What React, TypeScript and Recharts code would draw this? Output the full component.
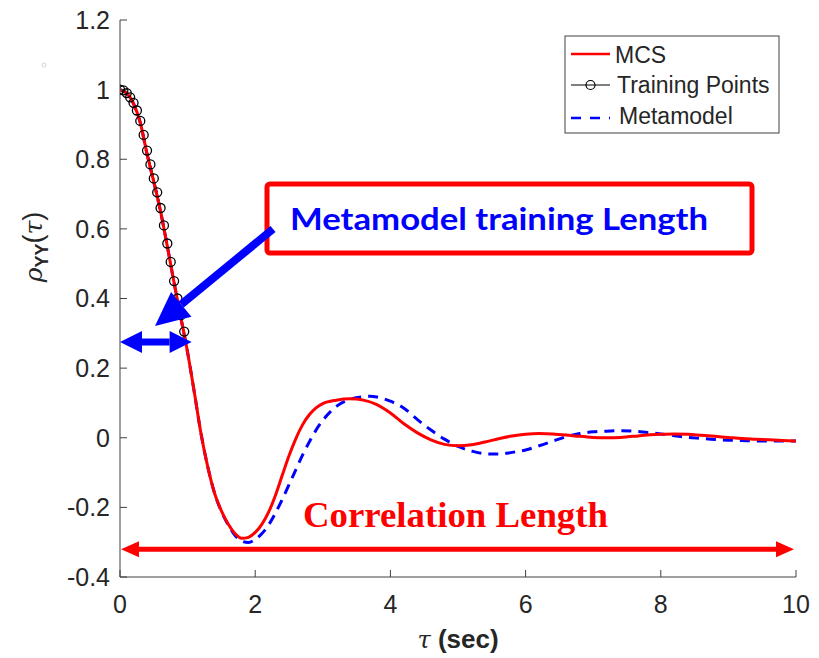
import React from 'react';
import { LineChart, Line, XAxis, YAxis } from 'recharts';

// Lag values (sec) and autocorrelation of the Monte Carlo simulation
const tauMcs = [
  0, 0.1, 0.2, 0.3, 0.4, 0.5, 0.6, 0.7, 0.8, 0.9, 1.0, 1.1, 1.2, 1.3, 1.4, 1.5,
  1.6, 1.7, 1.8, 1.9, 2.0, 2.1, 2.2, 2.3, 2.4, 2.5, 2.6, 2.7, 2.8, 2.9, 3.0,
  3.2, 3.4, 3.5, 3.6, 3.8, 4.0, 4.2, 4.4, 4.6, 4.8, 5.0, 5.2, 5.4, 5.6, 5.8,
  6.0, 6.2, 6.4, 6.6, 6.8, 7.0, 7.2, 7.4, 7.6, 7.8, 8.0, 8.2, 8.4, 8.6, 8.8,
  9.0, 9.2, 9.4, 9.6, 9.8, 10,
];
const rhoMcs = [
  1.0, 0.99, 0.96, 0.905, 0.815, 0.735, 0.65, 0.55, 0.445, 0.345, 0.245, 0.13,
  0.01, -0.085, -0.16, -0.21, -0.248, -0.275, -0.289, -0.286, -0.272, -0.248,
  -0.213, -0.165, -0.108, -0.052, -0.003, 0.037, 0.066, 0.086, 0.098,
  0.108, 0.112, 0.111, 0.108, 0.095, 0.071, 0.04, 0.014, -0.006, -0.019,
  -0.023, -0.02, -0.012, -0.003, 0.005, 0.01, 0.012, 0.011, 0.008, 0.004,
  0.001, 0.0, 0.001, 0.004, 0.008, 0.01, 0.011, 0.01, 0.007, 0.004, 0.001,
  -0.002, -0.004, -0.006, -0.008, -0.009,
];

// Training points used to fit the metamodel
const tauTrain = [
  0, 0.05, 0.1, 0.15, 0.2, 0.25, 0.3, 0.35, 0.4, 0.45, 0.5, 0.55, 0.6, 0.65,
  0.7, 0.75, 0.8, 0.85, 0.9, 0.95,
];
const rhoTrain = [
  1.0, 0.998, 0.99, 0.978, 0.962, 0.94, 0.91, 0.87, 0.825, 0.785, 0.745,
  0.705, 0.66, 0.61, 0.558, 0.505, 0.45, 0.4, 0.352, 0.305,
];

// Metamodel prediction
const tauMeta = [
  0, 0.1, 0.2, 0.3, 0.4, 0.5, 0.6, 0.7, 0.8, 0.9, 1.0, 1.1, 1.2, 1.3, 1.4, 1.5,
  1.6, 1.7, 1.8, 1.9, 2.0, 2.1, 2.2, 2.3, 2.4, 2.5, 2.6, 2.7, 2.8, 2.9, 3.0,
  3.2, 3.4, 3.6, 3.7, 3.8, 4.0, 4.2, 4.4, 4.6, 4.8, 5.0, 5.2, 5.4, 5.6, 5.8,
  6.0, 6.2, 6.4, 6.6, 6.8, 7.0, 7.2, 7.4, 7.6, 7.8, 8.0, 8.2, 8.4, 8.6, 8.8,
  9.0, 9.2, 9.4, 9.6, 9.8, 10,
];
const rhoMeta = [
  1.0, 0.99, 0.96, 0.905, 0.815, 0.735, 0.65, 0.55, 0.445, 0.345, 0.245, 0.13,
  0.01, -0.085, -0.16, -0.212, -0.25, -0.28, -0.297, -0.301, -0.292, -0.275,
  -0.25, -0.216, -0.177, -0.135, -0.092, -0.05, -0.012, 0.022, 0.05,
  0.09, 0.11, 0.118, 0.119, 0.117, 0.105, 0.085, 0.052, 0.022, -0.004,
  -0.025, -0.038, -0.046, -0.047, -0.042, -0.035, -0.023, -0.01, 0.003,
  0.012, 0.017, 0.019, 0.02, 0.019, 0.015, 0.011, 0.006, 0.001, -0.002,
  -0.005, -0.007, -0.008, -0.009, -0.009, -0.009, -0.009,
];

const xTicks = [0, 2, 4, 6, 8, 10];
const yTicks = [-0.4, -0.2, 0, 0.2, 0.4, 0.6, 0.8, 1, 1.2];
const xDomain: [number, number] = [0, 10];
const yDomain: [number, number] = [-0.4, 1.2];

// Annotation anchors in data units
const trainingLength = 1.0;
const trainingLevel = 0.275;
const correlationLevel = -0.32;

const mcsData = tauMcs.map((t, i) => ({ tau: t, rho: rhoMcs[i] }));
const trainData = tauTrain.map((t, i) => ({ tau: t, rho: rhoTrain[i] }));
const metaData = tauMeta.map((t, i) => ({ tau: t, rho: rhoMeta[i] }));

const W = 819;
const H = 658;
const PLOT = { left: 120, top: 20, right: 796, bottom: 577 };
const AXIS = '#404040';
const TEXT = '#262626';
const FONT = '"Liberation Sans", Arial, Helvetica, sans-serif';

const px = (x: number) =>
  PLOT.left + ((x - xDomain[0]) / (xDomain[1] - xDomain[0])) * (PLOT.right - PLOT.left);
const py = (y: number) =>
  PLOT.top + ((yDomain[1] - y) / (yDomain[1] - yDomain[0])) * (PLOT.bottom - PLOT.top);

function arrowHead(tipX: number, tipY: number, fromX: number, fromY: number, len: number, half: number) {
  const dx = tipX - fromX;
  const dy = tipY - fromY;
  const d = Math.hypot(dx, dy);
  const ux = dx / d;
  const uy = dy / d;
  const bx = tipX - ux * len;
  const by = tipY - uy * len;
  const pxp = -uy;
  const pyp = ux;
  return {
    points: `${tipX},${tipY} ${bx + pxp * half},${by + pyp * half} ${bx - pxp * half},${by - pyp * half}`,
    bx,
    by,
  };
}

function DoubleArrow({ x1, x2, y, color, width, len, half }: { x1: number; x2: number; y: number; color: string; width: number; len: number; half: number }) {
  const a = arrowHead(x1, y, x2, y, len, half);
  const b = arrowHead(x2, y, x1, y, len, half);
  return (
    <g>
      <line x1={a.bx} y1={y} x2={b.bx} y2={y} stroke={color} strokeWidth={width} />
      <polygon points={a.points} fill={color} />
      <polygon points={b.points} fill={color} />
    </g>
  );
}

function Overlay() {
  const tail = { x: 273, y: 229 };
  const tip = { x: 155, y: 326 };
  const head = arrowHead(tip.x, tip.y, tail.x, tail.y, 34, 16);
  const lx = 565;
  const ly = 36;
  return (
    <svg width={W} height={H} style={{ position: 'absolute', left: 0, top: 0, pointerEvents: 'none' }}>
      {/* legend */}
      <rect x={lx} y={ly} width={214} height={97} fill="#fff" stroke={AXIS} strokeWidth={1} />
      <line x1={571} y1={54} x2={610} y2={54} stroke="#ff0000" strokeWidth={2.5} />
      <text x={615} y={63} fontFamily={FONT} fontSize={23} fill={TEXT}>MCS</text>
      <line x1={571} y1={85} x2={610} y2={85} stroke="#000" strokeWidth={1} />
      <circle cx={590.5} cy={85} r={4.5} fill="none" stroke="#000" strokeWidth={1.2} />
      <text x={617} y={93} fontFamily={FONT} fontSize={23} fill={TEXT}>Training Points</text>
      <line x1={571} y1={118} x2={610} y2={118} stroke="#0000ff" strokeWidth={2.5} strokeDasharray="10 9" />
      <text x={619} y={124} fontFamily={FONT} fontSize={23} fill={TEXT}>Metamodel</text>

      {/* axis titles */}
      <text x={458} y={648} textAnchor="middle" fontFamily={FONT} fontSize={26} fill={TEXT}>
        <tspan fontStyle="italic" fontFamily='"DejaVu Serif", serif' fontSize={24}>τ</tspan>
        <tspan fontWeight="bold"> (sec)</tspan>
      </text>
      <text transform="rotate(-90 42 247)" x={42} y={247} textAnchor="middle" fontFamily={FONT} fontSize={27} fill={TEXT}>
        <tspan fontStyle="italic" fontFamily='"DejaVu Serif", serif' fontSize={25}>ρ</tspan>
        <tspan fontWeight="bold" fontSize={18} dy={6}>YY</tspan>
        <tspan dy={-6}>(</tspan>
        <tspan fontStyle="italic" fontFamily='"DejaVu Serif", serif' fontSize={25}>τ</tspan>
        <tspan>)</tspan>
      </text>
      <circle cx={44} cy={65} r={2} fill="none" stroke="#c8c8d0" strokeWidth={0.8} />

      {/* metamodel training length callout */}
      <rect x={267} y={184} width={485} height={69} rx={3} fill="#fff" stroke="#ff0000" strokeWidth={5} />
      <text x={290} y={230} fontFamily='Lato, "Open Sans", sans-serif' fontWeight="bold" fontSize={31} fill="#0000ff" textLength={418} lengthAdjust="spacingAndGlyphs">
        Metamodel training Length
      </text>
      <line x1={tail.x} y1={tail.y} x2={head.bx} y2={head.by} stroke="#0000ff" strokeWidth={8} />
      <polygon points={head.points} fill="#0000ff" />
      <DoubleArrow x1={px(0)} x2={px(trainingLength) + 4} y={py(trainingLevel)} color="#0000ff" width={7} len={22} half={11} />

      {/* correlation length */}
      <text x={303} y={527} fontFamily='"Liberation Serif", "Times New Roman", serif' fontWeight="bold" fontSize={36} fill="#ff0000" textLength={305} lengthAdjust="spacingAndGlyphs">
        Correlation Length
      </text>
      <DoubleArrow x1={px(0) + 1} x2={px(10) - 2} y={py(correlationLevel)} color="#ff0000" width={5} len={18} half={8} />
    </svg>
  );
}

const tickStyle = { fontFamily: FONT, fontSize: 25, fill: TEXT };

export default function App() {
  return (
    <div style={{ position: 'absolute', left: 0, top: 0, width: W, height: H, background: '#fff' }}>
      <LineChart width={W} height={H} margin={{ top: 20, right: 23, bottom: 41, left: 60 }}>
        <XAxis
          xAxisId="bottom"
          dataKey="tau"
          type="number"
          domain={xDomain}
          ticks={xTicks}
          allowDataOverflow
          height={40}
          stroke={AXIS}
          tickSize={-7}
          tickMargin={25}
          tick={tickStyle}
          interval={0}
        />
        <XAxis
          xAxisId="top"
          orientation="top"
          dataKey="tau"
          type="number"
          domain={xDomain}
          ticks={xTicks}
          allowDataOverflow
          height={0}
          stroke={AXIS}
          tickSize={-7}
          tick={false}
        />
        <YAxis
          yAxisId="left"
          type="number"
          domain={yDomain}
          ticks={yTicks}
          allowDataOverflow
          width={60}
          stroke={AXIS}
          tickSize={-7}
          tickMargin={17}
          tick={tickStyle}
          interval={0}
        />
        <YAxis
          yAxisId="right"
          orientation="right"
          type="number"
          domain={yDomain}
          ticks={yTicks}
          allowDataOverflow
          width={0}
          stroke={AXIS}
          tickSize={-7}
          tick={false}
        />
        <Line
          xAxisId="bottom"
          yAxisId="left"
          data={metaData}
          dataKey="rho"
          type="monotone"
          stroke="#0000ff"
          strokeWidth={3}
          strokeDasharray="10 7"
          dot={false}
          isAnimationActive={false}
        />
        <Line
          xAxisId="bottom"
          yAxisId="left"
          data={trainData}
          dataKey="rho"
          type="linear"
          stroke="#000"
          strokeWidth={1}
          dot={{ r: 4.5, fill: 'none', stroke: '#000', strokeWidth: 1.3 }}
          isAnimationActive={false}
        />
        <Line
          xAxisId="bottom"
          yAxisId="left"
          data={mcsData}
          dataKey="rho"
          type="monotone"
          stroke="#ff0000"
          strokeWidth={3}
          dot={false}
          isAnimationActive={false}
        />
        <Line
          xAxisId="top"
          yAxisId="right"
          data={mcsData}
          dataKey="rho"
          stroke="none"
          dot={false}
          legendType="none"
          isAnimationActive={false}
        />
      </LineChart>
      <Overlay />
    </div>
  );
}
